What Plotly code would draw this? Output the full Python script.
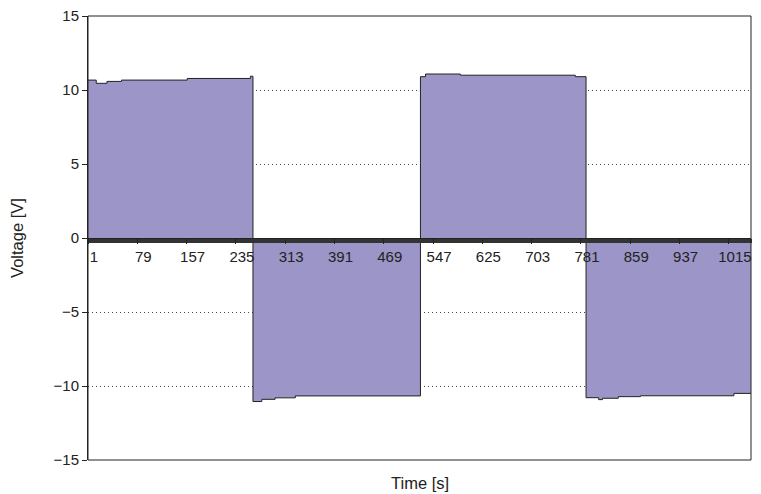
import plotly.graph_objects as go

# Step breakpoints (category index -> voltage level held until next breakpoint)
time_points = [1, 14, 31, 54, 158, 258, 262, 276, 297, 329, 527, 535, 590, 772,
               789, 809, 815, 840, 875, 1023, 1050]
voltage = [10.67, 10.45, 10.58, 10.67, 10.78, 10.93, -11.05, -10.9, -10.8, -10.67,
           10.9, 11.08, 11.0, 10.9, -10.79, -10.92, -10.83, -10.72, -10.66, -10.5, -10.5]

x_tick_vals = [1, 79, 157, 235, 313, 391, 469, 547, 625, 703, 781, 859, 937, 1015]
x_tick_text = [str(v) for v in x_tick_vals]
y_tick_vals = [-15, -10, -5, 0, 5, 10, 15]

FONT = "Liberation Sans, Arial, sans-serif"
INK = "#222222"
FS = 15
FT = 16.5

fig = go.Figure()
fig.add_trace(go.Scatter(
    x=time_points, y=voltage, mode="lines",
    line=dict(shape="hv", color=INK, width=1),
    fill="tozeroy", fillcolor="#9b95c8",
    hoverinfo="skip", showlegend=False,
))

# page body has an 8px margin, so the figure is sized/margined to land the plot at 88..751 x 16..460
fig.update_layout(
    width=753, height=486,
    margin=dict(l=80, r=10, t=8, b=34),
    paper_bgcolor="white", plot_bgcolor="white",
    font=dict(family=FONT, size=FS, color=INK),
    xaxis=dict(
        range=[1, 1050], anchor="free", position=0.5, automargin=False,
        showline=True, linecolor=INK, linewidth=1,
        ticks="outside", ticklen=5, tickcolor=INK, tickwidth=1,
        tickvals=x_tick_vals, ticktext=x_tick_text,
        ticklabelshift=6, ticklabeloverflow="allow",
        showgrid=False, zeroline=False,
        minor=dict(ticks="outside", ticklen=4, tickcolor="#333333", dtick=1, showgrid=False),
        tickfont=dict(family=FONT, size=FS, color=INK),
    ),
    yaxis=dict(
        range=[-15, 15], tickvals=y_tick_vals, automargin=False,
        ticks="outside", ticklen=5, tickcolor=INK, ticklabeloverflow="allow",
        showline=True, linecolor=INK, linewidth=1,
        showgrid=True, gridcolor="#444444", griddash="1px,3px", gridwidth=1,
        zeroline=False,
        tickfont=dict(family=FONT, size=FS, color=INK),
        title=dict(text="Voltage [V]", font=dict(family=FONT, size=FT, color=INK), standoff=25),
    ),
    shapes=[dict(type="rect", xref="paper", yref="paper", x0=0, x1=1, y0=0, y1=1,
                 line=dict(color=INK, width=1), layer="above")],
    annotations=[dict(text="Time [s]", xref="paper", yref="paper", x=0.5, y=-0.028,
                      xanchor="center", yanchor="top", showarrow=False,
                      font=dict(family=FONT, size=FT, color=INK))],
)

fig.write_html("out.html")
